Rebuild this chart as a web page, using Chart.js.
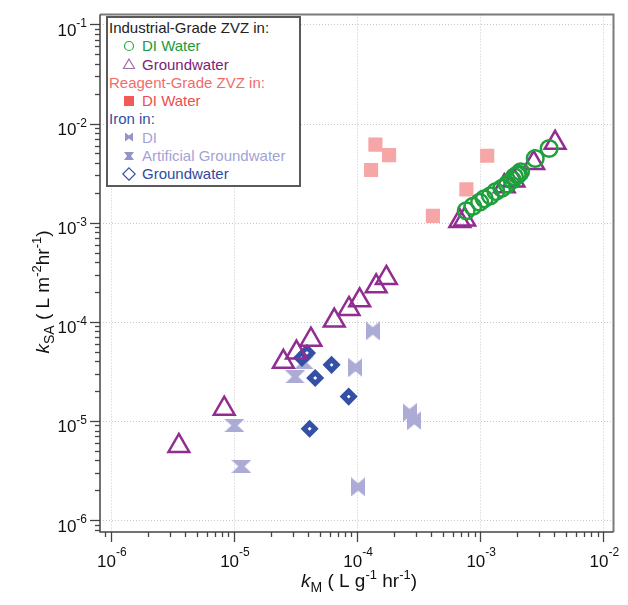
<!DOCTYPE html>
<html>
<head>
<meta charset="utf-8">
<script src="https://cdn.jsdelivr.net/npm/chart.js@4/dist/chart.umd.min.js"></script>
<style>
  body { margin: 0; background: #fff; }
  #wrap { position: relative; width: 628px; height: 605px; }
  #legend {
    position: absolute; left: 106px; top: 16px; width: 195px; height: 171px;
    box-sizing: border-box; border: 2px solid #5a5a5a; background: #fff;
    font: 15px "Liberation Sans", Arial, sans-serif; padding: 1px 0 0 1px;
  }
  .row { height: 18.3px; line-height: 18.3px; white-space: nowrap; }
  .row svg { vertical-align: middle; margin: -3px 6px 0 13px; }
</style>
</head>
<body>
<div id="wrap">
  <canvas id="chart" width="628" height="605"></canvas>
  <div id="legend">
    <div class="row" style="color:#222">Industrial-Grade ZVZ in:</div>
    <div class="row" style="color:#1a9a3a"><svg width="14" height="14"><circle cx="7" cy="7" r="4.5" fill="none" stroke="#2ba84a" stroke-width="1.2"/></svg>DI Water</div>
    <div class="row" style="color:#7a237a"><svg width="14" height="14"><polygon points="7,2 12.5,11.5 1.5,11.5" fill="none" stroke="#a070a8" stroke-width="1.2"/></svg>Groundwater</div>
    <div class="row" style="color:#f26b6b">Reagent-Grade ZVZ in:</div>
    <div class="row" style="color:#ee4e4e"><svg width="14" height="14"><rect x="2" y="2" width="10" height="10" fill="#f25a5a"/></svg>DI Water</div>
    <div class="row" style="color:#2f4fa8">Iron in:</div>
    <div class="row" style="color:#a3a3d6"><svg width="14" height="14"><polygon points="3,2.5 7,5.5 11,2.5 11,11.5 7,8.5 3,11.5" fill="#9494c8"/></svg>DI</div>
    <div class="row" style="color:#a3a3d6"><svg width="14" height="14"><polygon points="2,3 12,3 9,7 12,11 2,11 5,7" fill="#9494c8"/></svg>Artificial Groundwater</div>
    <div class="row" style="color:#2f4ba0"><svg width="14" height="14"><polygon points="7,0.8 13.2,7 7,13.2 0.8,7" fill="none" stroke="#3a4fa8" stroke-width="1.2"/></svg>Groundwater</div>
  </div>
</div>
<script>
// axis decades (tick labels are 10^exp)
const xTickExp = [-6, -5, -4, -3, -2];
const yTickExp = [-6, -5, -4, -3, -2, -1];

// Industrial-grade ZVZ in DI water
const indDiKm  = [7.7e-4, 8.7e-4, 9.9e-4, 1.08e-3, 1.21e-3, 1.34e-3, 1.5e-3, 1.66e-3, 1.82e-3, 1.9e-3, 2.0e-3, 2.05e-3, 2.13e-3, 2.8e-3, 3.63e-3];
const indDiKsa = [1.32e-3, 1.46e-3, 1.61e-3, 1.74e-3, 1.87e-3, 2.06e-3, 2.22e-3, 2.44e-3, 2.7e-3, 2.9e-3, 3.03e-3, 3.1e-3, 3.27e-3, 4.45e-3, 5.6e-3];

// Industrial-grade ZVZ in groundwater
const indGwKm  = [3.57e-6, 8.34e-6, 2.52e-5, 3.22e-5, 4.22e-5, 6.53e-5, 8.6e-5, 1.05e-4, 1.43e-4, 1.73e-4, 6.83e-4, 7.48e-4, 1.57e-3, 1.88e-3, 2.72e-3, 4.06e-3];
const indGwKsa = [5.6e-6, 1.33e-5, 3.95e-5, 4.9e-5, 6.6e-5, 1.03e-4, 1.35e-4, 1.65e-4, 2.28e-4, 2.77e-4, 1.04e-3, 1.08e-3, 2.33e-3, 2.67e-3, 4.0e-3, 6.4e-3];

// Reagent-grade ZVZ in DI water
const regDiKm  = [1.41e-4, 1.82e-4, 1.3e-4, 1.14e-3, 7.73e-4, 4.13e-4];
const regDiKsa = [6.14e-3, 4.81e-3, 3.4e-3, 4.73e-3, 2.17e-3, 1.17e-3];

// Iron in DI
const feDiKm  = [1.34e-4, 9.7e-5, 2.67e-4, 2.92e-4, 1.02e-4];
const feDiKsa = [8.1e-5, 3.46e-5, 1.21e-5, 1.01e-5, 2.16e-6];

// Iron in artificial groundwater
const feAgwKm  = [1.01e-5, 1.15e-5, 3.14e-5, 3.7e-5];
const feAgwKsa = [9.0e-6, 3.48e-6, 2.79e-5, 3.86e-5];

// Iron in groundwater
const feGwKm  = [3.57e-5, 3.92e-5, 6.21e-5, 4.57e-5, 8.55e-5, 4.12e-5];
const feGwKsa = [4.33e-5, 4.86e-5, 3.68e-5, 2.71e-5, 1.76e-5, 8.33e-6];

const FONT = '"Liberation Sans", Arial, sans-serif';

function pts(xs, ys) {
    return xs.map((v, i) => ({x: v, y: ys[i]}));
}

// custom marker shapes for the iron series
function shape(w, h, poly, color) {
    const c = document.createElement('canvas');
    c.width = w; c.height = h;
    const g = c.getContext('2d');
    g.fillStyle = color;
    g.beginPath();
    poly.forEach(([px, py], i) => i ? g.lineTo(px * w, py * h) : g.moveTo(px * w, py * h));
    g.closePath();
    g.fill();
    return c;
}
const bowtie = shape(14, 19, [[0,0],[0.5,0.3],[1,0],[1,1],[0.5,0.7],[0,1]], '#ababd6');
const hourglass = shape(20, 13, [[0,0],[1,0],[0.66,0.5],[1,1],[0,1],[0.34,0.5]], '#ababd6');

function supText(ctx, parts, x, y, align) {
    // parts: [text, size, dy, italic]
    let total = 0;
    parts.forEach(p => {
        ctx.font = (p[3] ? 'italic ' : '') + p[1] + 'px ' + FONT;
        p.w = ctx.measureText(p[0]).width;
        total += p.w;
    });
    let cx = align === 'right' ? x - total : align === 'center' ? x - total / 2 : x;
    ctx.textAlign = 'left';
    parts.forEach(p => {
        ctx.font = (p[3] ? 'italic ' : '') + p[1] + 'px ' + FONT;
        ctx.fillText(p[0], cx, y + p[2]);
        cx += p.w;
    });
}

const axesPlugin = {
    id: 'axesPlugin',
    beforeDatasetsDraw(chart) {
        const {ctx, chartArea: a, scales: {x, y}} = chart;
        ctx.save();
        ctx.strokeStyle = '#c8c8c8';
        ctx.lineWidth = 1;
        ctx.setLineDash([1, 2]);
        xTickExp.forEach(e => {
            const p = Math.round(x.getPixelForValue(Math.pow(10, e))) + 0.5;
            ctx.beginPath(); ctx.moveTo(p, a.top); ctx.lineTo(p, a.bottom); ctx.stroke();
        });
        yTickExp.forEach(e => {
            const p = Math.round(y.getPixelForValue(Math.pow(10, e))) + 0.5;
            ctx.beginPath(); ctx.moveTo(a.left, p); ctx.lineTo(a.right, p); ctx.stroke();
        });
        ctx.restore();
    },
    afterDraw(chart) {
        const {ctx, chartArea: a, scales: {x, y}} = chart;
        ctx.save();
        // frame
        ctx.strokeStyle = '#7a7a7a';
        ctx.lineWidth = 2;
        ctx.beginPath();
        ctx.moveTo(a.left, a.top); ctx.lineTo(a.right, a.top); ctx.lineTo(a.right, a.bottom);
        ctx.stroke();
        ctx.strokeStyle = '#444';
        ctx.lineWidth = 1.5;
        ctx.beginPath();
        ctx.moveTo(a.left, a.top); ctx.lineTo(a.left, a.bottom); ctx.lineTo(a.right, a.bottom);
        ctx.stroke();

        // major and minor ticks
        ctx.lineWidth = 1.3;
        for (let e = -7; e <= 0; e++) {
            for (let m = 1; m <= 9; m++) {
                const v = m * Math.pow(10, e);
                const len = m === 1 ? 10 : 5;
                if (v >= x.min && v <= x.max) {
                    const p = Math.round(x.getPixelForValue(v)) + 0.5;
                    ctx.beginPath(); ctx.moveTo(p, a.bottom); ctx.lineTo(p, a.bottom + len); ctx.stroke();
                }
                if (v >= y.min && v <= y.max) {
                    const p = Math.round(y.getPixelForValue(v)) + 0.5;
                    ctx.beginPath(); ctx.moveTo(a.left, p); ctx.lineTo(a.left - len, p); ctx.stroke();
                }
            }
        }

        // tick labels
        ctx.fillStyle = '#111';
        ctx.textBaseline = 'alphabetic';
        xTickExp.forEach(e => {
            const p = x.getPixelForValue(Math.pow(10, e));
            supText(ctx, [['10', 17, 0], ['-' + Math.abs(e), 12, -11.5]], p + 1, 567, 'center');
        });
        yTickExp.forEach(e => {
            const p = y.getPixelForValue(Math.pow(10, e));
            supText(ctx, [['10', 17, 0], ['-' + Math.abs(e), 12, -8.5]], 87, p + 11.5, 'right');
        });

        // axis titles
        supText(ctx, [['k', 19, 0, true], ['M', 14, 5], [' ( L g', 19, 0], ['-1', 13, -8.5], [' hr', 19, 0], ['-1', 13, -8.5], [')', 19, 0]], 359, 587, 'center');
        ctx.translate(49, 292);
        ctx.rotate(-Math.PI / 2);
        supText(ctx, [['k', 19, 0, true], ['SA', 14, 5], [' ( L m', 19, 0], ['-2', 13, -8.5], ['hr', 19, 0], ['-1', 13, -8.5], [')', 19, 0]], 0, 0, 'center');
        ctx.restore();
    }
};

const zeroFit = (scale) => {
    if (scale.isHorizontal()) scale.height = 0; else scale.width = 0;
};

new Chart(document.getElementById('chart').getContext('2d'), {
    type: 'scatter',
    data: {
        datasets: [{
            label: 'Industrial-Grade ZVZ, DI Water',
            data: pts(indDiKm, indDiKsa),
            pointStyle: 'circle', pointRadius: 8.3, borderWidth: 2.5,
            borderColor: '#1ea03c', backgroundColor: 'rgba(0,0,0,0)', order: 0
        }, {
            label: 'Industrial-Grade ZVZ, Groundwater',
            data: pts(indGwKm, indGwKsa),
            pointStyle: 'triangle', pointRadius: 12, borderWidth: 2.5,
            borderColor: '#912c91', backgroundColor: 'rgba(0,0,0,0)', order: 1
        }, {
            label: 'Iron, Groundwater',
            data: pts(feGwKm, feGwKsa),
            pointStyle: 'rectRot', pointRadius: 5.5, borderWidth: 5,
            borderColor: '#3350a6', backgroundColor: '#ffffff', order: 2
        }, {
            label: 'Iron, DI',
            data: pts(feDiKm, feDiKsa),
            pointStyle: bowtie, pointRadius: 9, order: 3
        }, {
            label: 'Iron, Artificial Groundwater',
            data: pts(feAgwKm, feAgwKsa),
            pointStyle: hourglass, pointRadius: 9, order: 4
        }, {
            label: 'Reagent-Grade ZVZ, DI Water',
            data: pts(regDiKm, regDiKsa),
            pointStyle: 'rect', pointRadius: 10, borderWidth: 0,
            borderColor: '#f6a6a6', backgroundColor: '#f6a6a6', order: 5
        }]
    },
    options: {
        responsive: false,
        animation: false,
        devicePixelRatio: 1,
        layout: { padding: { left: 100, top: 12, right: 7, bottom: 73 } },
        plugins: { legend: { display: false }, tooltip: { enabled: false } },
        scales: {
            x: {
                type: 'logarithmic', min: 8.17e-7, max: 0.0121,
                ticks: { display: false }, grid: { display: false }, border: { display: false },
                afterFit: zeroFit
            },
            y: {
                type: 'logarithmic', min: 7.58e-7, max: 0.126,
                ticks: { display: false }, grid: { display: false }, border: { display: false },
                afterFit: zeroFit
            }
        }
    },
    plugins: [axesPlugin]
});
</script>
</body>
</html>
